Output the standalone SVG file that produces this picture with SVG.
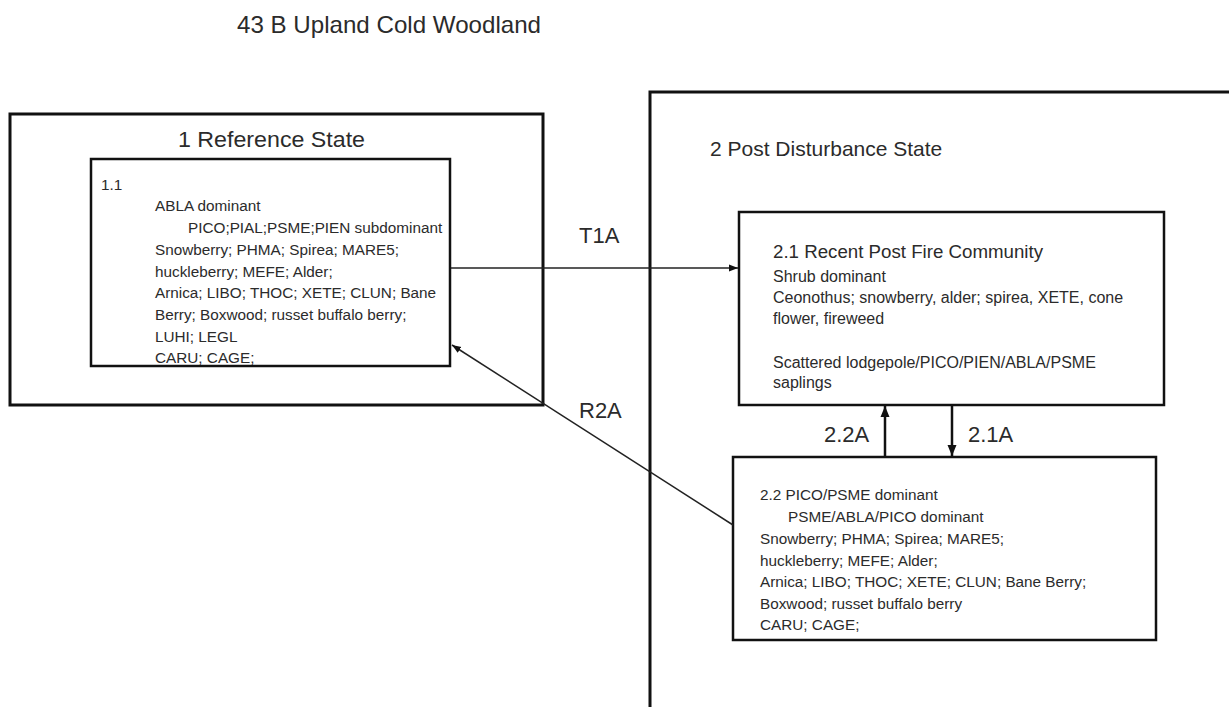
<svg xmlns="http://www.w3.org/2000/svg" width="1229" height="707" viewBox="0 0 1229 707">
<style>
  .t { font-family: "Liberation Sans", Arial, sans-serif; fill: #2b2b2b; }
  .body { font-size: 15.3px; }
  .b21 { font-size: 16px; }
  .hd { font-size: 21px; }
  .lab { font-size: 22px; }
  .outer { fill: none; stroke: #111; stroke-width: 3; }
  .inner { fill: #fff; stroke: #111; stroke-width: 2.5; }
  .conn { fill: none; stroke: #222; stroke-width: 1.5; }
  .vconn { fill: none; stroke: #111; stroke-width: 2.5; }
</style>
<defs>
  <marker id="ah" markerUnits="userSpaceOnUse" markerWidth="10" markerHeight="8" refX="9" refY="4" orient="auto">
    <path d="M0,0.5 L9,4 L0,7.5 Z" fill="#111"/>
  </marker>
  <marker id="ah2" markerUnits="userSpaceOnUse" markerWidth="12" markerHeight="10" refX="11" refY="5" orient="auto">
    <path d="M0,0.5 L11,5 L0,9.5 Z" fill="#111"/>
  </marker>
</defs>
<rect width="1229" height="707" fill="#fff"/>
<text class="t" x="237" y="33" font-size="24px" textLength="304" lengthAdjust="spacingAndGlyphs">43 B Upland Cold Woodland</text>

<g id="state1">
  <rect class="outer" x="10" y="114" width="533" height="291"/>
  <text class="t" x="178" y="147" font-size="22.5px" textLength="187" lengthAdjust="spacingAndGlyphs">1 Reference State</text>
</g>
<g id="state2">
  <rect class="outer" x="650" y="92" width="700" height="700"/>
  <text class="t hd" x="710" y="156">2 Post Disturbance State</text>
</g>

<g id="comm11">
  <rect class="inner" x="91" y="159" width="359" height="207" stroke-width="2"/>
  <text class="t body" x="101" y="190">1.1</text>
  <text class="t body" x="155" y="211">ABLA dominant</text>
  <text class="t body" x="188" y="233">PICO;PIAL;PSME;PIEN subdominant</text>
  <text class="t body" x="155" y="255">Snowberry; PHMA; Spirea; MARE5;</text>
  <text class="t body" x="155" y="277">huckleberry; MEFE; Alder;</text>
  <text class="t body" x="155" y="298">Arnica; LIBO; THOC; XETE; CLUN; Bane</text>
  <text class="t body" x="155" y="320">Berry; Boxwood; russet buffalo berry;</text>
  <text class="t body" x="155" y="342">LUHI; LEGL</text>
  <text class="t body" x="155" y="363">CARU; CAGE;</text>
</g>

<g id="comm21">
  <rect class="inner" x="739" y="212" width="425" height="193" stroke-width="3"/>
  <text class="t" x="773" y="258" font-size="18.7px">2.1 Recent Post Fire Community</text>
  <text class="t b21" x="773" y="282">Shrub dominant</text>
  <text class="t b21" x="773" y="303">Ceonothus; snowberry, alder; spirea, XETE, cone</text>
  <text class="t b21" x="773" y="324">flower, fireweed</text>
  <text class="t b21" x="773" y="368">Scattered lodgepole/PICO/PIEN/ABLA/PSME</text>
  <text class="t b21" x="773" y="388">saplings</text>
</g>

<g id="comm22">
  <rect class="inner" x="733" y="457" width="423" height="183"/>
  <text class="t body" x="760" y="500">2.2 PICO/PSME dominant</text>
  <text class="t body" x="788" y="522">PSME/ABLA/PICO dominant</text>
  <text class="t body" x="760" y="544">Snowberry; PHMA; Spirea; MARE5;</text>
  <text class="t body" x="760" y="566">huckleberry; MEFE; Alder;</text>
  <text class="t body" x="760" y="587">Arnica; LIBO; THOC; XETE; CLUN; Bane Berry;</text>
  <text class="t body" x="760" y="609">Boxwood; russet buffalo berry</text>
  <text class="t body" x="760" y="630">CARU; CAGE;</text>
</g>

<g id="connectors">
  <line class="conn" x1="451" y1="268" x2="738" y2="268" marker-end="url(#ah)"/>
  <line class="conn" x1="733" y1="525" x2="452" y2="345" marker-end="url(#ah)"/>
  <line class="vconn" x1="885" y1="457" x2="885" y2="406" marker-end="url(#ah2)"/>
  <line class="vconn" x1="952" y1="405" x2="952" y2="456" marker-end="url(#ah2)"/>
  <text class="t lab" x="579" y="243">T1A</text>
  <text class="t lab" x="579" y="418">R2A</text>
  <text class="t lab" x="824" y="442">2.2A</text>
  <text class="t lab" x="968" y="442">2.1A</text>
</g>
</svg>
